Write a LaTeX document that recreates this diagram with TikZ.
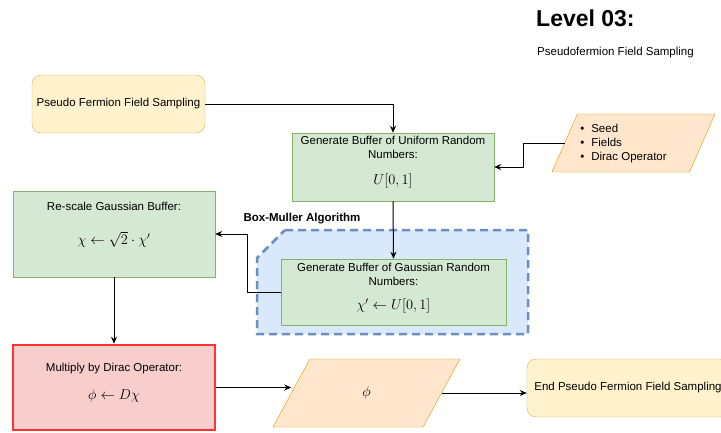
\documentclass[tikz,border=0pt]{standalone}
\usepackage[no-math]{fontspec}
\setmainfont{Liberation Sans}
\usetikzlibrary{shapes.geometric,arrows.meta}

\definecolor{termfill}{HTML}{FFF2CC}
\definecolor{termdraw}{HTML}{D6B656}
\definecolor{procfill}{HTML}{D5E8D4}
\definecolor{procdraw}{HTML}{82B366}
\definecolor{datafill}{HTML}{FFE6CC}
\definecolor{datadraw}{HTML}{D79B00}
\definecolor{multfill}{HTML}{F8CECC}
\definecolor{multdraw}{HTML}{FF3333}
\definecolor{mullerfill}{HTML}{DAE8FC}
\definecolor{mullerdraw}{HTML}{6C8EBF}

\newcommand{\eqn}[1]{\mbox{\fontsize{14}{16}\selectfont$#1$}}

\begin{document}
\begin{tikzpicture}[x=1pt,y=-1pt,
  every node/.style={font=\fontsize{11.5}{14}\selectfont, inner sep=0pt},
  terminal/.style={draw=termdraw, fill=termfill, rounded corners=9pt,
    minimum width=173pt, minimum height=58pt},
  process/.style={draw=procdraw, fill=procfill},
  boxtext/.style={anchor=north, align=center},
  data/.style={trapezium, trapezium stretches body, draw=datadraw, fill=datafill},
  arrow/.style={-{Stealth[length=7pt,width=6pt]}, line width=1pt}]
\useasboundingbox (0,0) rectangle (721,432);
\clip (0,0) rectangle (721,432);

% Title
\node[anchor=west, font=\fontsize{23}{26}\selectfont\bfseries] (title) at (536,18) {Level 03:};
\node[anchor=west] (subtitle) at (537,53) {Pseudofermion Field Sampling};

% Box-Muller group
\draw[draw=mullerdraw, fill=mullerfill, line width=2.5pt, dash pattern=on 8pt off 5pt]
  (285,230) -- (528,230) -- (528,334) -- (257,334) -- (257,258) -- cycle;
\node[font=\fontsize{11.5}{14}\selectfont\bfseries] (mullerlabel) at (302,219) {Box-Muller Algorithm};

% Nodes
\node[terminal] (start) at (118.5,104) {Pseudo Fermion Field Sampling};

\node[process, minimum width=202pt, minimum height=68pt] (uniform) at (393,167) {};
\node[boxtext] (uniformtext) at ([yshift=-3.5pt]uniform.north)
  {Generate Buffer of Uniform Random\\Numbers:\\[11.5pt] \eqn{U[0,1]}};

\node[data, trapezium left angle=66.3, trapezium right angle=113.7,
  minimum width=163pt, text height=33pt, text depth=25pt] (inputs) at (633.5,143)
  {\begin{tabular}{@{}l@{\hspace{20pt}}}
   \textbullet\hspace{7pt}Seed\\ \textbullet\hspace{7pt}Fields\\ \textbullet\hspace{7pt}Dirac Operator
   \end{tabular}};

\node[process, minimum width=225pt, minimum height=66pt] (gauss) at (393.5,292) {};
\node[boxtext] (gausstext) at ([yshift=-4.5pt]gauss.north)
  {Generate Buffer of Gaussian Random\\Numbers:\\[9.5pt] \eqn{\chi' \leftarrow U[0,1]}};

\node[process, minimum width=202pt, minimum height=86pt] (rescale) at (114,234) {};
\node[boxtext] (rescaletext) at ([yshift=-11.5pt]rescale.north)
  {Re-scale Gaussian Buffer:\\[20pt] \eqn{\chi \leftarrow \sqrt{2}\cdot\chi'}};

\node[process, draw=multdraw, fill=multfill, line width=2.5pt, minimum width=202pt,
  minimum height=85pt] (multiply) at (114,387.5) {};
\node[boxtext] (multiplytext) at ([yshift=-19.5pt]multiply.north)
  {Multiply by Dirac Operator:\\[13.5pt] \eqn{\phi \leftarrow D\chi}};

\node[data, trapezium left angle=61.5, trapezium right angle=118.5,
  minimum width=187pt, text height=37.5pt, text depth=30.5pt] (phi) at (366.5,393) {\eqn{\phi}};
\node[terminal, minimum width=202pt] (end) at (628,388) {End Pseudo Fermion Field Sampling};

% Arrows
\draw[arrow] (start.east) -| (uniform.north);
\draw[arrow] (inputs.west) -- ++(-41,0) |- (uniform.east);
\draw[arrow] (uniform.south) -- (gauss.north);
\draw[arrow] (gauss.west) -- ++(-33,0) |- (rescale.east);
\draw[arrow] (rescale.south) -- (multiply.north);
\draw[arrow] (multiply.east) -- (multiply.east -| phi.west);
\draw[arrow] (phi.east) -- (phi.east -| end.west);
\end{tikzpicture}
\end{document}
